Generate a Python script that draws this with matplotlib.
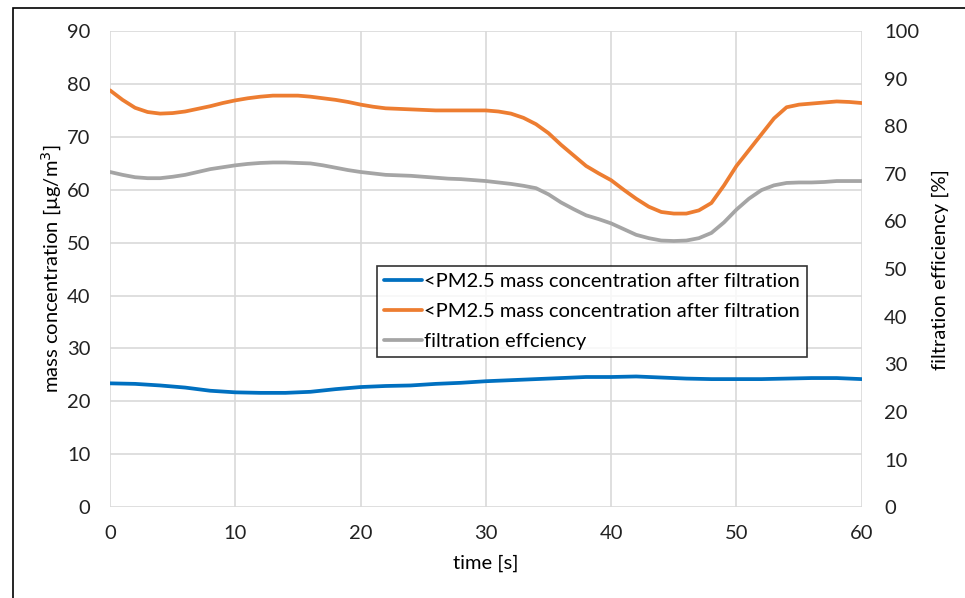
import matplotlib.pyplot as plt
from matplotlib.patches import Rectangle

# dane
time_s = list(range(0, 61))
pm_before = [78.8, 77.0, 75.5, 74.7, 74.4, 74.5, 74.8, 75.3, 75.8, 76.4,
             76.9, 77.3, 77.6, 77.8, 77.8, 77.8, 77.6, 77.3, 77.0, 76.6,
             76.1, 75.7, 75.4, 75.3, 75.2, 75.1, 75.0, 75.0, 75.0, 75.0,
             75.0, 74.8, 74.4, 73.6, 72.4, 70.7, 68.5, 66.5, 64.5, 63.1,
             61.8, 60.0, 58.3, 56.8, 55.8, 55.5, 55.5, 56.1, 57.5, 60.8,
             64.5, 67.5, 70.5, 73.5, 75.6, 76.1, 76.3, 76.5, 76.7, 76.6,
             76.4]
efficiency = [70.4, 69.8, 69.3, 69.1, 69.1, 69.4, 69.8, 70.4, 71.0, 71.4,
              71.8, 72.1, 72.3, 72.4, 72.4, 72.3, 72.2, 71.8, 71.3, 70.8,
              70.4, 70.1, 69.8, 69.7, 69.6, 69.4, 69.2, 69.0, 68.9, 68.7,
              68.5, 68.2, 67.9, 67.5, 67.0, 65.7, 64.0, 62.6, 61.3, 60.5,
              59.6, 58.4, 57.2, 56.5, 56.0, 55.9, 56.0, 56.5, 57.6, 59.8,
              62.5, 64.8, 66.6, 67.6, 68.1, 68.2, 68.2, 68.3, 68.5, 68.5,
              68.5]
time_blue = list(range(0, 61, 2))
pm_after = [23.4, 23.3, 23.0, 22.6, 22.0, 21.7, 21.6, 21.6, 21.8, 22.3, 22.7,
            22.9, 23.0, 23.3, 23.5, 23.8, 24.0, 24.2, 24.4, 24.6, 24.6, 24.7,
            24.5, 24.3, 24.2, 24.2, 24.2, 24.3, 24.4, 24.4, 24.2]

labels = ["<PM2.5 mass concentration after filtration",
          "<PM2.5 mass concentration after filtration",
          "filtration effciency"]

plt.rcParams['font.family'] = ['Lato', 'DejaVu Sans']
fs = 14.5

fig = plt.figure(figsize=(9.65, 5.98), dpi=100)
ax = fig.add_axes([0.114, 0.152, 0.779, 0.796])
ax2 = ax.twinx()

style = dict(lw=2.7, solid_capstyle='round', solid_joinstyle='round')
l1, = ax.plot(time_blue, pm_after, color='#0070C0', **style)
l2, = ax.plot(time_s, pm_before, color='#ED7D31', **style)
l3, = ax2.plot(time_s, efficiency, color='#A5A5A5', **style)

ax.set_xlim(0, 60)
ax.set_ylim(0, 90)
ax2.set_ylim(0, 100)
ax.set_xticks(range(0, 61, 10))
ax.set_yticks(range(0, 91, 10))
ax2.set_yticks(range(0, 101, 10))

ax.grid(True, color='#D9D9D9', lw=1.2)
ax.set_axisbelow(True)
for a in (ax, ax2):
    for s in a.spines.values():
        s.set_visible(False)
    a.tick_params(length=0, labelsize=fs, colors='#222222')
ax.tick_params(axis='x', pad=13)
ax.tick_params(axis='y', pad=14)
ax2.tick_params(axis='y', pad=16)

ax.set_xlabel("time [s]", fontsize=fs, labelpad=9)
ax.set_ylabel("mass concentration [µg/m$^3$]", fontsize=fs, labelpad=2)
ax2.set_ylabel("filtration efficiency [%]", fontsize=fs, labelpad=9)

leg = ax.legend([l1, l2, l3], labels, loc='lower left',
                bbox_to_anchor=(0.355, 0.315), fontsize=fs, frameon=True,
                fancybox=False, edgecolor='black', handlelength=1.9,
                handletextpad=0.1, borderpad=0.35, labelspacing=0.65,
                borderaxespad=0)
leg.get_frame().set_linewidth(1.2)
leg.set_zorder(5)

# ramka wokół rysunku
fig.patches.append(Rectangle((13 / 965, -0.1), 1.2, 1.1 - 8 / 598,
                             transform=fig.transFigure, fill=False,
                             edgecolor='black', lw=1.2))

fig.savefig("out.png", dpi=100)
